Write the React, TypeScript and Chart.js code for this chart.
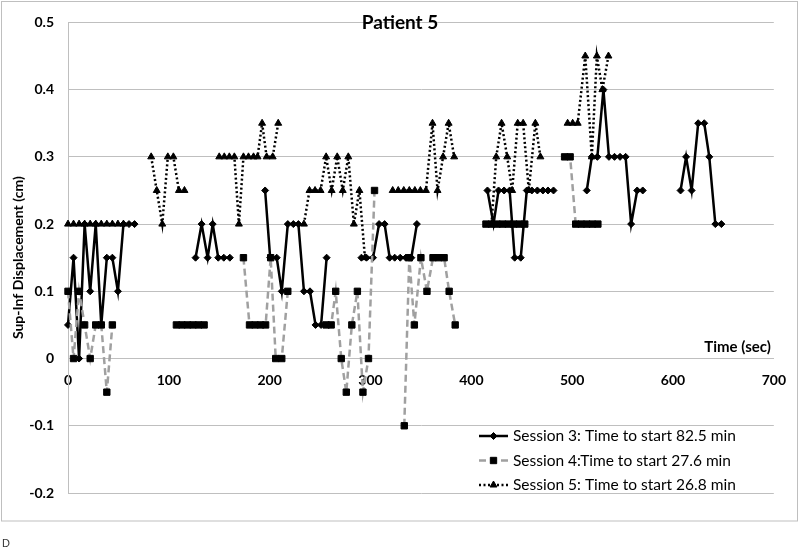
import React, { useEffect, useRef } from 'react';
import { Chart, registerables } from 'chart.js';
import { drawPoint } from 'chart.js/helpers';

Chart.register(...registerables);

// ---- Data (time in seconds, displacement in cm); null marks a gap ----
const s3Time = [0, 5.5, 11, 16.5, 22, 27.5, 33, 38.5, 44, 49.5, 55, 60.5, 66, null,
  126.5, 132.5, 138.5, 143.5, 149, 154.5, 160.5, null,
  195.5, 200.5, 207, 212, 218, 223.5, 228.5, 234, 240, 245.5, 251, 256.5, null,
  291, 296, 302.5, 308.5, 314, 319, 324, 329.5, 335, 340.5, 346, null,
  416, 422, 427, 432.5, 438, 443, 449, 455, 460, 465.5, 471, 476, 481.5, null,
  514.5, 519.5, 525, 531, 536.5, 542, 547.5, 553, 558.5, 564.5, 570, null,
  607.5, 613, 618.5, 625, 631, 636, 642, 648];
const s3Disp = [0.05, 0.15, 0, 0.2, 0.1, 0.2, 0.05, 0.15, 0.15, 0.1, 0.2, 0.2, 0.2, null,
  0.15, 0.2, 0.15, 0.2, 0.15, 0.15, 0.15, null,
  0.25, 0.15, 0.15, 0.1, 0.2, 0.2, 0.2, 0.1, 0.1, 0.05, 0.05, 0.15, null,
  0.15, 0.15, 0.15, 0.2, 0.2, 0.15, 0.15, 0.15, 0.15, 0.15, 0.2, null,
  0.25, 0.2, 0.25, 0.25, 0.25, 0.15, 0.15, 0.25, 0.25, 0.25, 0.25, 0.25, 0.25, null,
  0.25, 0.3, 0.3, 0.4, 0.3, 0.3, 0.3, 0.3, 0.2, 0.25, 0.25, null,
  0.25, 0.3, 0.25, 0.35, 0.35, 0.3, 0.2, 0.2];

const s4Time = [0, 5.5, 11, 16.5, 22, 27.5, 33, 38.5, 44, null,
  107.5, 113, 118.5, 124, 129.5, 135, null,
  174, 180, 185.5, 191, 196, 201, 206, 212, 218, null,
  256, 261, 265.5, 271, 276, 281.5, 287, 292.5, 298, 304, null,
  333.5, 338.5, 343.5, 350, 356, 362, 367.5, 373, 378, 384, null,
  414.5, 420, 425.5, 431, 436.5, 442, 447.5, 453, null,
  492.5, 498, 503.5, 509, 514.5, 520, 525.5];
const s4Disp = [0.1, 0, 0.1, 0.05, 0, 0.05, 0.05, -0.05, 0.05, null,
  0.05, 0.05, 0.05, 0.05, 0.05, 0.05, null,
  0.15, 0.05, 0.05, 0.05, 0.05, 0.15, 0, 0, 0.1, null,
  0.05, 0.05, 0.1, 0, -0.05, 0.05, 0.1, -0.05, 0, 0.25, null,
  -0.1, 0.15, 0.05, 0.15, 0.1, 0.15, 0.15, 0.15, 0.1, 0.05, null,
  0.2, 0.2, 0.2, 0.2, 0.2, 0.2, 0.2, 0.2, null,
  0.3, 0.3, 0.2, 0.2, 0.2, 0.2, 0.2];

const s5Time = [0, 5.5, 11, 16.5, 22, 27.5, 33, 38.5, 44, 49.5, 55, null,
  82.5, 88, 93.5, 99, 104.5, 110, 115.5, null,
  150, 155, 160, 165, 169.5, 174, 179, 184, 188, 192.5, 197, 203, 208.5, null,
  234, 239.5, 245, 250.5, 256, 261.5, 267, 272.5, 278, 283.5, 289, 294.5, null,
  322, 327.5, 333, 338.5, 344, 349.5, 355, 361.5, 366.5, 372, 377.5, 383, null,
  420, 424.7, 430, 435.6, 440.5, 446, 451.4, 457, 463.5, 468.5, null,
  495.5, 500.5, 505.5, 513, 519.5, 524.5, 530, 536];
const s5Disp = [0.2, 0.2, 0.2, 0.2, 0.2, 0.2, 0.2, 0.2, 0.2, 0.2, 0.2, null,
  0.3, 0.25, 0.2, 0.3, 0.3, 0.25, 0.25, null,
  0.3, 0.3, 0.3, 0.3, 0.2, 0.3, 0.3, 0.3, 0.3, 0.35, 0.3, 0.3, 0.35, null,
  0.2, 0.25, 0.25, 0.25, 0.3, 0.25, 0.3, 0.25, 0.3, 0.2, 0.25, 0.15, null,
  0.25, 0.25, 0.25, 0.25, 0.25, 0.25, 0.25, 0.35, 0.25, 0.3, 0.35, 0.3, null,
  0.2, 0.3, 0.35, 0.3, 0.25, 0.35, 0.35, 0.25, 0.35, 0.3, null,
  0.35, 0.35, 0.35, 0.45, 0.3, 0.45, 0.4, 0.45];

const seriesLabels = [
  'Session 3: Time to start 82.5 min',
  'Session 4:Time to start 27.6 min',
  'Session 5: Time to start 26.8 min',
];
const chartTitle = 'Patient 5';
const xAxisTitle = 'Time (sec)';
const yAxisTitle = 'Sup-Inf Displacement (cm)';
const xMin = 0, xMax = 700, xStep = 100;
const yMin = -0.2, yMax = 0.5, yStep = 0.1;

const FONT = 'Lato, "Open Sans", sans-serif';
const GRID = '#BFBFBF';

function toPoints(times: (number | null)[], values: (number | null)[]) {
  return times.map((t, i) => ({ x: t === null ? NaN : t, y: values[i] }));
}

function fmtY(v: number) {
  const r = Math.round(v * 10) / 10;
  if (Math.abs(r) < 1e-9) return '0';
  return r.toFixed(1);
}

const decorPlugin = {
  id: 'decor',
  beforeDraw(chart: any) {
    const ctx = chart.ctx;
    ctx.save();
    ctx.fillStyle = '#ffffff';
    ctx.fillRect(0, 0, chart.width, chart.height);
    ctx.strokeStyle = GRID;
    ctx.lineWidth = 1;
    ctx.strokeRect(1.5, 1.5, 796, 519.5);
    ctx.restore();
  },
  afterDraw(chart: any) {
    const ctx = chart.ctx;
    const area = chart.chartArea;
    const yScale = chart.scales.y;
    ctx.save();
    // chart title
    ctx.fillStyle = '#000';
    ctx.font = `bold 19px ${FONT}`;
    ctx.textAlign = 'center';
    ctx.textBaseline = 'middle';
    ctx.fillText(chartTitle, chart.width / 2, 23);
    // x axis title
    ctx.font = `bold 15px ${FONT}`;
    ctx.textAlign = 'right';
    ctx.fillText(xAxisTitle, area.right - 3, yScale.getPixelForValue(0) - 11);
    // legend
    const items = chart.data.datasets;
    const lx0 = 479, lx1 = 508, tx = 513;
    items.forEach((ds: any, i: number) => {
      const y = 436 + i * 24.5;
      ctx.save();
      ctx.strokeStyle = ds.borderColor;
      ctx.lineWidth = ds.borderWidth;
      ctx.setLineDash(ds.borderDash || []);
      ctx.beginPath();
      ctx.moveTo(lx0, y);
      ctx.lineTo(lx1, y);
      ctx.stroke();
      ctx.restore();
      ctx.save();
      ctx.fillStyle = ds.pointBackgroundColor;
      ctx.strokeStyle = ds.pointBorderColor;
      ctx.lineWidth = ds.pointBorderWidth;
      drawPoint(ctx, { pointStyle: ds.pointStyle, radius: ds.pointRadius, rotation: 0, borderWidth: ds.pointBorderWidth }, (lx0 + lx1) / 2, y);
      ctx.restore();
      ctx.fillStyle = '#000';
      ctx.font = `15.5px ${FONT}`;
      ctx.textAlign = 'left';
      ctx.textBaseline = 'middle';
      ctx.fillText(ds.label, tx, y);
    });
    // stray corner mark
    ctx.fillStyle = '#333';
    ctx.font = '11px "Liberation Sans", Arial, sans-serif';
    ctx.textAlign = 'left';
    ctx.textBaseline = 'alphabetic';
    ctx.fillText('D', 2, 547);
    ctx.restore();
  },
};

export default function App() {
  const ref = useRef<HTMLCanvasElement | null>(null);
  useEffect(() => {
    if (!ref.current) return;
    const chart = new Chart(ref.current, {
      type: 'line',
      data: {
        datasets: [
          {
            label: seriesLabels[0],
            data: toPoints(s3Time, s3Disp),
            borderColor: '#000000',
            borderWidth: 2.5,
            pointStyle: 'rectRot',
            pointRadius: 3.5,
            pointBackgroundColor: '#000000',
            pointBorderColor: '#000000',
            pointBorderWidth: 1,
            order: 3,
            clip: false as any,
          },
          {
            label: seriesLabels[1],
            data: toPoints(s4Time, s4Disp),
            borderColor: '#A0A0A0',
            borderWidth: 2.5,
            borderDash: [7, 4],
            pointStyle: 'rect',
            pointRadius: 4.5,
            pointBackgroundColor: '#000000',
            pointBorderColor: '#000000',
            pointBorderWidth: 1,
            order: 2,
            clip: false as any,
          },
          {
            label: seriesLabels[2],
            data: toPoints(s5Time, s5Disp),
            borderColor: '#000000',
            borderWidth: 2.5,
            borderDash: [2, 2.5],
            pointStyle: 'triangle',
            pointRadius: 4,
            pointBackgroundColor: '#000000',
            pointBorderColor: '#000000',
            pointBorderWidth: 1,
            order: 1,
            clip: false as any,
          },
        ] as any,
      },
      options: {
        responsive: false,
        animation: false,
        layout: { padding: { left: 0, right: 22, top: 20, bottom: 56 } },
        elements: { line: { tension: 0 } },
        plugins: { legend: { display: false }, tooltip: { enabled: false }, title: { display: false } },
        scales: {
          x: {
            type: 'linear',
            min: xMin,
            max: xMax,
            position: { y: 0 } as any,
            grid: { display: false, drawTicks: false },
            border: { display: true, color: GRID, width: 1 },
            ticks: {
              stepSize: xStep,
              padding: 14,
              color: '#000',
              font: { family: FONT, size: 14, weight: 'bold' },
              maxRotation: 0,
            },
          },
          y: {
            type: 'linear',
            min: yMin,
            max: yMax,
            grid: { color: GRID, lineWidth: 1, drawTicks: false },
            border: { display: true, color: GRID, width: 1 },
            ticks: {
              stepSize: yStep,
              padding: 14,
              color: '#000',
              font: { family: FONT, size: 14, weight: 'bold' },
              callback: (v: any) => fmtY(Number(v)),
            },
            title: {
              display: true,
              text: yAxisTitle,
              color: '#000',
              font: { family: FONT, size: 14, weight: 'bold' },
              padding: { top: 10, bottom: 0 },
            },
            afterFit: (scale: any) => { scale.width = 68; },
          },
        },
      } as any,
      plugins: [decorPlugin],
    });
    return () => chart.destroy();
  }, []);
  return (
    <div style={{ position: 'absolute', left: 0, top: 0, width: 800, height: 549 }}>
      <canvas ref={ref} width={800} height={549} style={{ display: 'block' }} />
    </div>
  );
}
